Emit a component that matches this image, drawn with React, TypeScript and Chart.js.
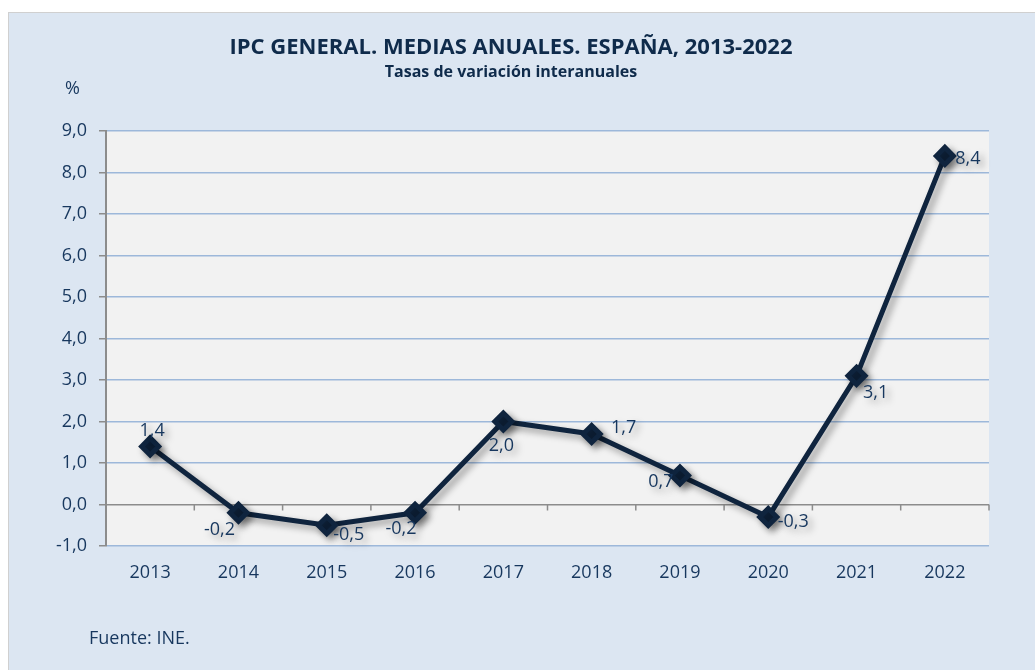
import React, { useEffect, useRef } from "react";
import { Chart, registerables } from "chart.js";

Chart.register(...registerables);

const years = ["2013", "2014", "2015", "2016", "2017", "2018", "2019", "2020", "2021", "2022"];
const ipc = [1.4, -0.2, -0.5, -0.2, 2.0, 1.7, 0.7, -0.3, 3.1, 8.4];
const yTicks = [-1, 0, 1, 2, 3, 4, 5, 6, 7, 8, 9];

// label placement (style only): offsets in px relative to each point
const labelOffsets: [number, number][] = [
  [2, -16], [-19, 17], [22, 10], [-14, 16], [-2, 24], [32, -6], [-19, 6], [25, 5], [19, 17], [23, 3],
];

const TEXT = "#17375E";
const FONT = "'Open Sans'";
const fmt = (v: number) => v.toFixed(1).replace(".", ",");

const shadowPlugin = {
  id: "lineShadow",
  beforeDatasetsDraw(chart: any) {
    const ctx = chart.ctx;
    ctx.save();
    ctx.shadowColor = "rgba(0,0,0,0.38)";
    ctx.shadowBlur = 7;
    ctx.shadowOffsetX = 4;
    ctx.shadowOffsetY = 4;
  },
  afterDatasetsDraw(chart: any) {
    chart.ctx.restore();
  },
};

const extrasPlugin = {
  id: "extras",
  beforeDatasetsDraw(chart: any) {
    const ctx = chart.ctx;
    const x = chart.scales.x;
    const y = chart.scales.y;
    const y0 = y.getPixelForValue(0);
    const step = x.getPixelForValue(1) - x.getPixelForValue(0);
    ctx.save();
    ctx.strokeStyle = "#8C8C8C";
    ctx.lineWidth = 1.5;
    ctx.beginPath();
    for (let i = 0; i <= years.length; i++) {
      const px = x.getPixelForValue(0) - step / 2 + i * step;
      ctx.moveTo(px, y0);
      ctx.lineTo(px, y0 + 6);
    }
    ctx.stroke();
    ctx.restore();
  },
  afterDatasetsDraw(chart: any) {
    const ctx = chart.ctx;
    const meta = chart.getDatasetMeta(0);
    ctx.save();
    ctx.fillStyle = TEXT;
    ctx.font = "18px " + FONT;
    ctx.textAlign = "center";
    ctx.textBaseline = "middle";
    meta.data.forEach((pt: any, i: number) => {
      const [dx, dy] = labelOffsets[i];
      ctx.fillText(fmt(ipc[i]), pt.x + dx, pt.y + dy);
    });
    ctx.restore();
  },
};

const plotBg = {
  id: "plotBg",
  beforeDraw(chart: any) {
    const { ctx, chartArea } = chart;
    ctx.save();
    ctx.fillStyle = "#F2F2F2";
    ctx.fillRect(chartArea.left, chartArea.top, chartArea.right - chartArea.left, chartArea.bottom - chartArea.top);
    ctx.restore();
  },
};

export default function App() {
  const ref = useRef<HTMLCanvasElement | null>(null);
  useEffect(() => {
    if (!ref.current) return;
    const chart = new Chart(ref.current, {
      type: "line",
      data: {
        labels: years,
        datasets: [
          {
            data: ipc,
            borderColor: "#0F243E",
            backgroundColor: "#0F243E",
            borderWidth: 5,
            pointStyle: "rectRot",
            pointRadius: 8.5,
            pointHoverRadius: 8.5,
            tension: 0,
          },
        ],
      },
      options: {
        animation: false,
        responsive: false,
        layout: { padding: { top: 118, right: 46, left: 0, bottom: 0 } },
        plugins: { legend: { display: false }, tooltip: { enabled: false }, title: { display: false } },
        scales: {
          x: {
            offset: true,
            grid: { display: false, drawTicks: false },
            border: { display: false },
            ticks: { color: TEXT, font: { family: FONT, size: 18 }, padding: 16 },
            afterFit(s: any) {
              s.height = 124;
            },
          },
          y: {
            min: -1,
            max: 9,
            afterBuildTicks(s: any) {
              s.ticks = yTicks.map((v) => ({ value: v }));
            },
            grid: {
              color: (c: any) => (c.tick && c.tick.value === 0 ? "#8C8C8C" : "#9DB8DA"),
              lineWidth: 1.5,
              tickColor: "#8C8C8C",
              tickLength: 7,
            },
            border: { display: true, color: "#8C8C8C", width: 2 },
            ticks: {
              color: TEXT,
              font: { family: FONT, size: 18 },
              padding: 12,
              callback: (v: any) => fmt(Number(v)),
            },
            afterFit(s: any) {
              s.width = 97;
            },
          },
        },
      },
      plugins: [plotBg, extrasPlugin, shadowPlugin],
    });
    return () => chart.destroy();
  }, []);

  return (
    <div
      style={{
        position: "absolute",
        left: 8,
        top: 12,
        width: 1027,
        height: 658,
        background: "#DCE6F2",
        borderLeft: "1px solid #D0D0D0",
        borderTop: "1px solid #D0D0D0",
        boxSizing: "border-box",
        fontFamily: "'Open Sans', sans-serif",
        color: TEXT,
        overflow: "hidden",
      }}
    >
      <canvas ref={ref} width={1026} height={657} style={{ position: "absolute", left: 0, top: 0 }} />
      <div style={{ position: "absolute", left: 0, width: 1004, top: 17, textAlign: "center", fontWeight: 700, fontSize: 22, color: "#0F2B4B", whiteSpace: "nowrap" }}>
        IPC GENERAL. MEDIAS ANUALES. ESPAÑA, 2013-2022
      </div>
      <div style={{ position: "absolute", left: 0, width: 1004, top: 47, textAlign: "center", fontWeight: 700, fontSize: 16, color: "#0F2B4B", whiteSpace: "nowrap" }}>
        Tasas de variación interanuales
      </div>
      <div style={{ position: "absolute", left: 56, top: 62, fontSize: 18 }}>%</div>
      <div style={{ position: "absolute", left: 80, top: 612, fontSize: 18 }}>Fuente: INE.</div>
    </div>
  );
}
